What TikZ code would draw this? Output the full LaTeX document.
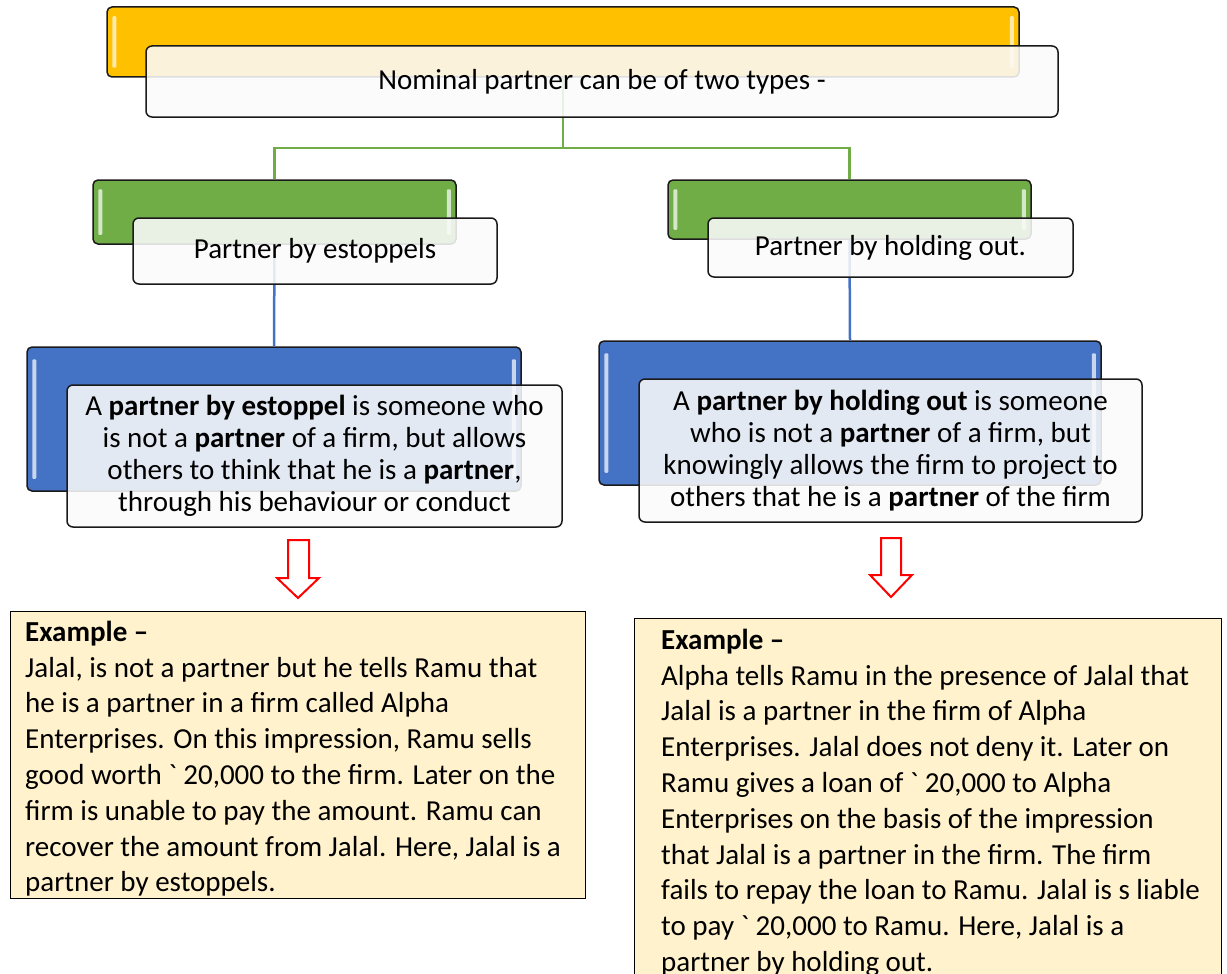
\documentclass[tikz,border=0pt]{standalone}
\usepackage{fontspec}
\newfontfamily\calibri{Carlito}
\definecolor{goldfill}{HTML}{FFC000}
\definecolor{leaffill}{HTML}{70AD47}
\definecolor{seafill}{HTML}{4472C4}
\definecolor{notefill}{HTML}{FFF2CC}
\definecolor{cardfill}{HTML}{FAFAFA}
\definecolor{edge}{HTML}{1A1A1A}
\tikzset{
  bar/.style={draw=edge, line width=1.5pt, rounded corners=5pt, inner sep=0pt},
  goldbar/.style={bar, fill=goldfill},
  leafbar/.style={bar, fill=leaffill},
  seabar/.style={bar, fill=seafill},
  card/.style={draw=edge, line width=1.5pt, rounded corners=6pt, fill=cardfill,
    fill opacity=0.88, text opacity=1, inner sep=0pt, align=center,
    font=\calibri\fontsize{29}{32}\selectfont},
  notebox/.style={draw=black, line width=1pt, fill=notefill, inner sep=0pt},
  notetext/.style={anchor=north west, inner sep=0pt, align=left,
    font=\calibri\fontsize{29}{35.8}\selectfont},
  leaflink/.style={draw=leaffill, line width=2.5pt},
  sealink/.style={draw=seafill, line width=2.5pt},
  hollowarrow/.style={draw=red, line width=2pt, fill=white, line join=miter},
}
% light bevel strips near the short sides of a coloured bar
\newcommand\barshine[3]{%
  \fill[#2, rounded corners=1pt]
    ([xshift=6pt, yshift=-#3]#1.north west) rectangle ([xshift=10pt, yshift=#3]#1.south west);
  \fill[#2, rounded corners=1pt]
    ([xshift=-10pt, yshift=-#3]#1.north east) rectangle ([xshift=-6pt, yshift=#3]#1.south east);
}
\begin{document}
\begin{tikzpicture}[x=1pt, y=-1pt]
\useasboundingbox (0,0) rectangle (1227,974);
\clip (0,0) rectangle (1227,974);

% coloured header bars
\node[goldbar, minimum width=912pt, minimum height=70pt] (gold) at (563,42) {};
\node[leafbar, minimum width=363pt, minimum height=64pt] (leafL) at (274.5,212) {};
\node[leafbar, minimum width=363pt, minimum height=59pt] (leafR) at (849.5,209.5) {};
\node[seabar, minimum width=494pt, minimum height=144pt] (seaL) at (274,419) {};
\node[seabar, minimum width=502pt, minimum height=144pt] (seaR) at (850,413) {};

% connectors
\coordinate (fork) at (563,148);
\draw[leaflink] (gold.south) -- (fork);
\draw[leaflink] (leafL.north) |- (fork) -| (leafR.north);
\draw[sealink] (leafL.south) -- (seaL.north);
\draw[sealink] (leafR.south) -- (seaR.north);

% bevel highlights
\barshine{gold}{goldfill!35!white}{10pt}
\barshine{leafL}{leaffill!30!white}{10pt}
\barshine{leafR}{leaffill!30!white}{10pt}
\barshine{seaL}{seafill!30!white}{13pt}
\barshine{seaR}{seafill!30!white}{13pt}

% text cards
\node[card, minimum width=912pt, minimum height=71pt] (topcard) at (602,81.5)
  {Nominal partner can be of two types -};
\node[card, minimum width=364pt, minimum height=66pt] (cardL) at (315,251)
  {Partner by estoppels};
\node[card, minimum width=365pt, minimum height=59pt] (cardR) at (890.5,247.5)
  {Partner by holding out.};
\node[card, minimum width=495pt, minimum height=142pt] (defL) at (314.5,456)
  {A \textbf{partner by estoppel} is someone who\\
   is not a \textbf{partner} of a firm, but allows\\
   others to think that he is a \textbf{partner},\\
   through his behaviour or conduct};
\node[card, minimum width=503pt, minimum height=143pt] (defR) at (890.5,450.5)
  {A \textbf{partner by holding out} is someone\\
   who is not a \textbf{partner} of a firm, but\\
   knowingly allows the firm to project to\\
   others that he is a \textbf{partner} of the firm};

% hollow down arrows
\draw[hollowarrow] (288,540) -- (309,540) -- (309,578) -- (319,578) -- (298,598)
  -- (277,578) -- (288,578) -- cycle;
\draw[hollowarrow] (881,538) -- (901,538) -- (901,575) -- (912,575) -- (891,597)
  -- (870,575) -- (881,575) -- cycle;

% example notes
\node[notebox, minimum width=575pt, minimum height=287pt] (noteL) at (297.5,754.5) {};
\node[notetext] (noteLtext) at (25,617)
  {\rule{0pt}{24pt}\textbf{Example –}\\
   Jalal, is not a partner but he tells Ramu that\\
   he is a partner in a firm called Alpha\\
   Enterprises. On this impression, Ramu sells\\
   good worth ` 20,000 to the firm. Later on the\\
   firm is unable to pay the amount. Ramu can\\
   recover the amount from Jalal. Here, Jalal is a\\
   partner by estoppels.};
\node[notebox, minimum width=587pt, minimum height=380pt] (noteR) at (927.5,808) {};
\node[notetext] (noteRtext) at (661,625)
  {\rule{0pt}{24pt}\textbf{Example –}\\
   Alpha tells Ramu in the presence of Jalal that\\
   Jalal is a partner in the firm of Alpha\\
   Enterprises. Jalal does not deny it. Later on\\
   Ramu gives a loan of ` 20,000 to Alpha\\
   Enterprises on the basis of the impression\\
   that Jalal is a partner in the firm. The firm\\
   fails to repay the loan to Ramu. Jalal is s liable\\
   to pay ` 20,000 to Ramu. Here, Jalal is a\\
   partner by holding out.};
\end{tikzpicture}
\end{document}
